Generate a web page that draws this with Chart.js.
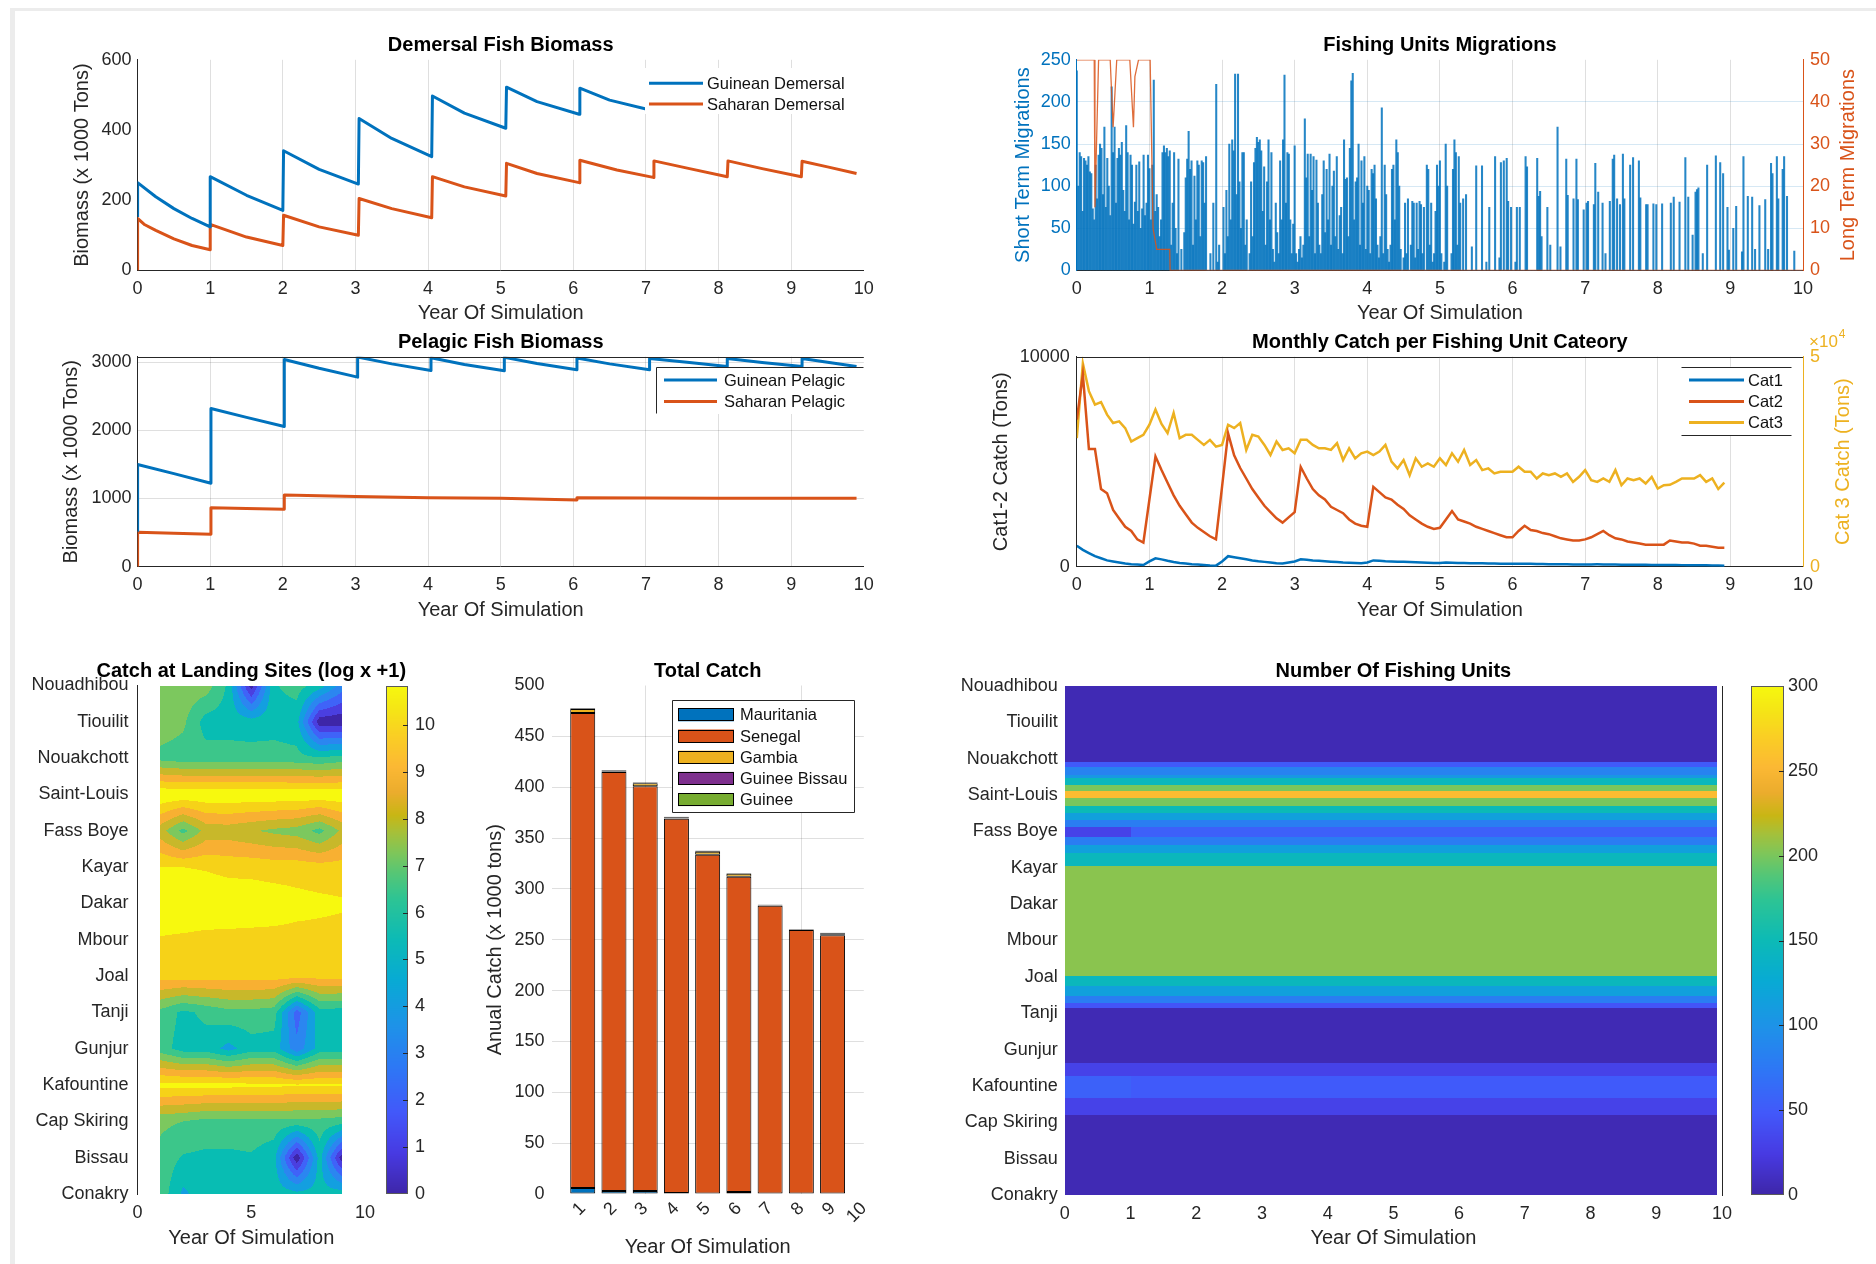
<!DOCTYPE html>
<html>
<head>
<meta charset="utf-8">
<title>Fisheries simulation dashboard</title>
<script src="https://cdn.jsdelivr.net/npm/chart.js@4.4.1/dist/chart.umd.min.js"></script>
<style>
html,body{margin:0;padding:0;background:#ffffff;}
body{position:relative;width:1876px;height:1264px;overflow:hidden;}
canvas{position:absolute;}
#frameL{position:absolute;left:10px;top:8px;width:5px;height:1256px;background:#ececec;}
#frameT{position:absolute;left:10px;top:8px;width:1866px;height:3px;background:#ececec;}
</style>
</head>
<body>
<div id="frameL"></div><div id="frameT"></div>
<canvas id="c1"></canvas>
<canvas id="c2"></canvas>
<canvas id="c3"></canvas>
<canvas id="c4"></canvas>
<canvas id="c5"></canvas>
<canvas id="c6"></canvas>
<canvas id="c7"></canvas>
<script>
// ======================= DATA =======================
const sites = ['Nouadhibou','Tiouilit','Nouakchott','Saint-Louis','Fass Boye','Kayar','Dakar','Mbour','Joal','Tanji','Gunjur','Kafountine','Cap Skiring','Bissau','Conakry'];

// Demersal fish biomass (x 1000 tons)
const guineanDemersalYear = [0,0,0.25,0.5,0.75,1.0,1.0,1.5,2.0,2.01,2.5,3.04,3.05,3.5,4.05,4.06,4.5,5.07,5.08,5.5,6.08,6.09,6.5,7.1,7.11,7.6,8.12,8.13,8.6,9.14,9.15,9.5,9.9];
const guineanDemersal     = [152,250,210,176,148,124,267,214,171,341,288,246,433,376,324,497,448,405,522,481,445,519,485,455,515,490,470,515,492,470,515,495,478];
const saharanDemersalYear = [0,0,0.1,0.25,0.5,0.75,1.0,1.0,1.5,2.0,2.01,2.5,3.04,3.05,3.5,4.05,4.06,4.5,5.07,5.08,5.5,6.08,6.09,6.6,7.1,7.11,7.6,8.12,8.13,8.6,9.14,9.15,9.5,9.9];
const saharanDemersal     = [0,148,130,114,90,71,59,131,95,71,157,124,100,205,176,150,267,238,212,305,276,250,314,286,265,312,290,267,312,290,267,311,295,276];

// Pelagic fish biomass (x 1000 tons)
const guineanPelagicYear = [0,0,0.5,1.01,1.01,1.5,2.02,2.02,2.5,3.03,3.03,3.5,4.04,4.04,4.5,5.05,5.05,5.5,6.05,6.05,6.5,7.05,7.05,7.6,8.12,8.12,8.6,9.15,9.15,9.5,9.9];
const guineanPelagic     = [514,1500,1365,1224,2320,2190,2056,3040,2910,2780,3075,2975,2878,3065,2965,2873,3070,2980,2888,3060,2975,2888,3055,2995,2937,3055,2995,2937,3055,3000,2937];
const saharanPelagicYear = [0,0,0.5,1.01,1.01,1.5,2.02,2.02,2.5,3.0,4.0,5.0,6.05,6.05,7.0,8.0,9.0,9.9];
const saharanPelagic     = [0,504,490,475,866,855,842,1052,1040,1028,1013,1003,979,1013,1008,1005,1003,1003];
const pelagicTicks = [0,1000,2000,3000];

// Fishing units migrations: short term (one value every 0.02 year), long term (read points)
const migrationStepYears = 0.02;
const shortTermMigrations = [
 237,100,140,135,70,133,130,125,135,117,115,73,60,125,85,137,150,145,90,170,75,133,100,65,218,140,170,80,133,145,137,152,95,70,172,140,60,137,125,55,81,125,70,129,50,73,137,65,80,137,
 121,60,125,226,70,90,75,40,60,140,148,140,145,135,142,30,80,140,50,20,132,0,25,0,45,110,132,165,120,130,30,112,60,130,125,40,130,128,80,135,0,0,20,0,80,0,221,10,30,0,
 0,75,20,95,40,150,60,155,142,233,90,233,105,50,140,140,30,60,0,20,105,40,128,145,158,152,155,142,70,123,30,105,155,60,140,25,10,80,45,20,130,60,155,232,80,140,138,60,20,55,
 148,20,10,25,40,15,30,180,110,138,40,138,95,135,20,131,80,30,20,90,130,45,120,60,138,30,100,118,40,135,25,65,75,20,155,108,110,40,145,225,234,60,105,110,150,30,130,80,135,25,
 100,95,20,120,115,125,85,30,15,40,193,20,125,90,25,10,30,120,125,60,155,140,100,25,0,15,80,20,85,0,30,82,80,15,80,25,82,78,20,75,0,125,120,30,80,10,20,70,125,100,
 130,20,0,10,150,100,0,0,20,120,155,140,30,135,80,0,85,0,90,0,0,0,28,0,0,124,0,0,0,124,0,0,10,0,75,0,0,0,135,0,0,15,128,0,130,0,133,82,0,75,
 0,0,10,75,0,75,0,0,0,135,123,0,0,0,0,0,0,133,88,94,40,0,0,0,75,0,30,0,0,0,0,170,0,28,0,0,0,132,89,0,0,0,85,0,132,84,0,0,0,72,
 0,80,82,0,0,0,78,127,0,93,0,0,80,0,20,0,0,82,0,132,137,0,85,0,78,0,138,85,0,0,0,125,0,134,0,0,0,130,86,0,0,0,78,78,0,0,0,79,0,78,
 0,0,0,79,0,0,0,0,0,80,0,87,0,0,0,81,0,0,0,134,0,87,0,0,42,0,93,96,98,0,0,20,0,0,125,0,0,0,0,0,136,0,0,128,0,115,0,0,75,24,
 0,0,50,0,76,0,0,0,22,135,0,0,88,0,0,87,0,25,0,0,77,0,0,0,84,0,25,0,127,115,0,0,135,85,0,0,120,135,0,88,0,0,0,0,23,0,0,0,0,0
];
const longTermYear = [0,0.24,0.25,0.3,0.46,0.5,0.55,0.73,0.78,0.8,0.85,1.01,1.05,1.1,1.28,1.285,10];
const longTermMigrations = [50,50,15,50,50,34,50,50,34,46,50,50,10,5,5,0,0];

// Monthly catch per fishing unit category (tons), one value per month from year 0
const monthsPerYear = 12;
const cat1Catch = [1000,800,650,500,400,300,250,200,150,120,100,80, 250,400,350,280,220,180,150,120,100,80,60,50, 250,500,450,400,350,300,260,230,200,170,150,200, 250,350,330,300,280,260,240,220,200,190,180,170, 200,300,280,260,250,240,230,220,210,200,190,180, 180,200,190,180,175,170,165,160,155,150,145,140, 140,145,140,135,130,125,120,118,115,112,110,108, 108,110,112,110,105,100,98,95,92,90,88,85, 85,82,80,78,75,72,70,68,65,60,55,50];
const cat2Catch = [7000,9150,5600,5600,3700,3500,2700,2300,1900,1700,1300,1150, 3200,5250,4600,4000,3400,2900,2500,2100,1850,1650,1450,1300, 3800,6350,5300,4700,4200,3700,3300,2900,2600,2300,2100,2350, 2600,4750,4200,3700,3400,3200,2850,2700,2550,2250,2050,1950, 1900,3800,3550,3300,3200,2950,2750,2450,2250,2050,1900,1800, 1850,2250,2650,2250,2150,2050,1900,1800,1700,1600,1500,1400, 1400,1700,1950,1750,1700,1600,1550,1450,1350,1300,1250,1250, 1300,1400,1550,1700,1500,1350,1300,1200,1150,1100,1050,1050, 1050,1050,1250,1200,1150,1150,1100,1000,1000,950,900,900];
const cat3Catch = [30600,48400,41800,38600,39200,36200,34200,34600,33000,29800,30600,31400, 33800,37400,34000,31800,36600,30600,31400,31400,30200,29000,30200,28600, 29000,33800,33000,34200,27800,31400,31000,29000,26600,29800,27800,28200, 27000,30200,30200,29000,28200,28200,27800,29400,25400,28200,25800,27000, 27400,26600,27400,29000,25000,23400,25400,21800,25800,23800,24600,23800, 25800,24200,27000,25000,27800,24200,25400,23000,23400,22200,22600,22600, 22600,23800,22600,22600,21000,22200,21800,22200,21400,22200,20200,21400, 23000,20600,20200,21000,20200,23000,19400,21000,20600,21000,19800,21400, 18600,19400,19500,20200,21000,21000,21000,21800,20200,21000,18500,20000];

// Catch at landing sites, log(x+1): rows = sites, columns = years 1..9
const contourYears = [1,2,3,4,5,6,7,8,9];
const landingCatchLog = [
 [6.9,6.9,6.8,5.2,0.4,5.3,5.8,5.0,3.2],
 [6.9,6.5,5.0,5.0,4.9,5.0,4.8,0.3,0.2],
 [6.0,5.8,5.8,5.8,5.8,5.8,5.7,5.5,5.8],
 [10.7,10.6,10.6,10.6,10.6,10.6,10.6,10.6,10.6],
 [7.6,6.0,7.5,7.6,7.3,7.0,6.8,6.0,7.4],
 [9.9,9.9,9.8,9.6,9.6,9.5,9.5,9.4,9.4],
 [10.8,10.8,10.7,10.6,10.5,10.4,10.2,10.1,10.0],
 [9.8,9.7,9.6,9.6,9.6,9.6,9.6,9.6,9.6],
 [9.4,9.4,9.4,9.4,9.4,9.4,9.4,9.3,9.3],
 [6.0,5.2,5.6,6.0,6.0,5.8,2.2,5.0,4.9],
 [5.8,5.0,5.0,4.2,5.0,5.0,3.0,4.9,4.9],
 [10.2,10.2,10.2,10.2,10.1,10.1,10.0,10.0,10.0],
 [6.5,6.3,6.0,6.0,6.0,6.0,6.0,6.0,5.8],
 [6.0,5.3,5.2,5.2,5.3,4.8,0.2,4.9,0.3],
 [6.0,4.3,5.0,5.0,5.0,5.0,4.8,4.8,5.0]
];
const contourLevels = [0.9,1.8,2.7,3.6,4.5,5.4,6.3,7.2,8.1,9.0,9.9];
const catchLogMax = 10.84;
const catchLogTicks = [0,1,2,3,4,5,6,7,8,9,10];

// Total annual catch (x 1000 tons)
const totalCatchYear = [1,2,3,4,5,6,7,8,9];
const catchMauritania   = [6,3,3,1,0.5,2,0.5,0.5,0.5];
const catchSenegal      = [467,412,398,368,333,310,283,259,254];
const catchGambia       = [4,0.5,3,0.5,3,3,0.5,0.5,0.5];
const catchGuineeBissau = [0.5,1,0.5,1,1,0.3,0.3,0.3,1.5];
const catchGuinee       = [0.3,0.5,0.3,0.5,0.3,0.3,0.3,0.3,0.5];

// Number of fishing units: bands along the coast (site axis) x time segments
const unitsEdges      = [1,3.08,3.22,3.45,3.54,3.72,3.9,4.08,4.3,4.5,4.68,4.87,5.14,5.37,5.6,5.96,8.98,9.26,9.54,9.72,9.86,11.37,11.73,12.33,12.79,15];
const unitsFirstYear  = [5,50,85,105,145,200,255,200,150,115,80,30,80,115,145,205,145,115,80,45,5,30,56,30,5];
const unitsLaterYears = [5,50,85,105,145,200,255,200,150,115,80,55,80,115,145,205,145,115,80,45,5,30,50,30,5];
const unitsTimeEdges  = [0,1,9.92];
const unitsMax = 300;
const unitsTicks = [0,50,100,150,200,250,300];

// ======================= STYLE / HELPERS =======================
const FONT = "'Liberation Sans', Arial, Helvetica, sans-serif";
const TXT = '#262626';
const GRID = 'rgba(38,38,38,0.15)';
const BLUE = '#0072BD', ORANGE = '#D95319', YELLOW = '#EDB120', PURPLE = '#7E2F8E', GREEN = '#77AC30';
const CLEAR = 'rgba(0,0,0,0)';

Chart.defaults.font.family = FONT;
Chart.defaults.color = TXT;
Chart.defaults.animation = false;
Chart.defaults.events = [];
Chart.defaults.plugins.legend.display = false;
Chart.defaults.plugins.tooltip.enabled = false;

const PARULA = [[0,62,38,168],[0.08,71,58,226],[0.16,66,88,250],[0.25,45,120,245],[0.33,30,146,232],[0.42,8,170,212],[0.5,12,186,182],[0.58,45,196,148],[0.63,85,198,118],[0.67,125,198,90],[0.71,165,192,58],[0.745,200,182,20],[0.79,235,172,45],[0.84,251,184,52],[0.9,250,206,36],[0.95,245,228,22],[1,246,248,14]];
function parula(t){
  t = Math.max(0, Math.min(1, t));
  for (let i = 1; i < PARULA.length; i++) {
    if (t <= PARULA[i][0]) {
      const a = PARULA[i-1], b = PARULA[i], f = (t - a[0]) / (b[0] - a[0]);
      return [a[1]+f*(b[1]-a[1]), a[2]+f*(b[2]-a[2]), a[3]+f*(b[3]-a[3])];
    }
  }
  return PARULA[PARULA.length-1].slice(1);
}
function rgb(c){ return 'rgb(' + Math.round(c[0]) + ',' + Math.round(c[1]) + ',' + Math.round(c[2]) + ')'; }
const CONTOUR_COLORS = [[62,38,168],[74,63,224],[63,99,248],[43,134,240],[19,159,224],[8,189,179],[60,198,138],[124,200,94],[200,184,42],[248,176,50],[246,210,24],[247,249,14]];

const BOX = {
  c1:{x:0,y:20,w:900,h:310},
  c2:{x:940,y:20,w:936,h:310},
  c3:{x:0,y:320,w:900,h:310},
  c4:{x:940,y:320,w:936,h:310},
  c5:{x:0,y:650,w:460,h:614},
  c6:{x:460,y:650,w:440,h:614},
  c7:{x:920,y:650,w:956,h:614}
};
function prep(id){
  const b = BOX[id], c = document.getElementById(id);
  c.width = b.w; c.height = b.h; c.style.left = b.x + 'px'; c.style.top = b.y + 'px';
  return c;
}
function pts(xs, ys){ return ys.map((v, i) => ({x: xs[i], y: v})); }
function gridAt(vals, color){ return ctx => (ctx.tick && vals.indexOf(ctx.tick.value) >= 0) ? color : CLEAR; }
function fixedTicks(vals){ return s => { s.ticks = vals.map(v => ({value: v})); }; }
const tickFont = {family: FONT, size: 18};
const titleFont = {family: FONT, size: 20};

function xYears(height, titleBottom, extra){
  return Object.assign({
    type:'linear', position:'bottom', min:0, max:10, offset:false,
    ticks:{stepSize:1, color:TXT, font:tickFont, padding:8, maxRotation:0, minRotation:0, autoSkip:false},
    grid:{display:true, drawTicks:false, offset:false, color:gridAt([1,2,3,4,5,6,7,8,9], GRID), lineWidth:1},
    border:{display:true, color:TXT, width:1},
    title:{display:true, text:'Year Of Simulation', color:TXT, font:titleFont, padding:{top:0, bottom:titleBottom}},
    afterFit: s => { s.height = height; }
  }, extra || {});
}
function yLeft(width, title, titleTop, extra){
  return Object.assign({
    type:'linear', position:'left',
    ticks:{color:TXT, font:tickFont, padding:6, autoSkip:false, callback: v => String(v)},
    grid:{display:false, drawTicks:false},
    border:{display:true, color:TXT, width:1},
    title:{display: !!title, text: title || '', color:TXT, font:titleFont, padding:{top:titleTop, bottom:0}},
    afterFit: s => { s.width = width; }
  }, extra || {});
}
// hidden right scale used only to place a colorbar
function colorbarScale(max, width, ticksFn, borderOn){
  return {type:'linear', position:'right', min:0, max:max,
    ticks:{display:false}, grid:{display:false, drawTicks:false},
    border:{display:borderOn, color:TXT, width:1},
    afterBuildTicks: ticksFn,
    afterFit: s => { s.width = width; }};
}

// Extra drawing registry (titles, legends, heat maps, colorbars) - filled before each chart is created
const DECOR = {};
Chart.register({
  id: 'decor',
  beforeDatasetsDraw(chart){
    const d = DECOR[chart.canvas.id];
    if (d && d.under) { chart.ctx.save(); d.under(chart, chart.ctx, BOX[chart.canvas.id]); chart.ctx.restore(); }
  },
  afterDraw(chart){
    const d = DECOR[chart.canvas.id]; if (!d) return;
    const ctx = chart.ctx, b = BOX[chart.canvas.id], a = chart.chartArea;
    ctx.save();
    if (d.over) d.over(chart, ctx, b);
    if (d.title) {
      ctx.font = 'bold 20px ' + FONT; ctx.fillStyle = '#000'; ctx.textAlign = 'center'; ctx.textBaseline = 'middle';
      ctx.fillText(d.title, (a.left + a.right) / 2, d.titleY - b.y);
    }
    ctx.restore();
  }
});

function legendItems(chart){ return chart.data.datasets.filter(ds => ds.label).map(ds => ({label: ds.label, color: ds.legendColor || ds.borderColor || ds.backgroundColor})); }
function drawLegend(ctx, b, L, items){
  const [x1, y1, x2, y2] = L.box;
  ctx.save();
  ctx.fillStyle = '#fff'; ctx.fillRect(x1 - b.x, y1 - b.y, x2 - x1, y2 - y1);
  const X1 = Math.round(x1 - b.x) + 0.5, Y1 = Math.round(y1 - b.y) + 0.5, X2 = Math.round(x2 - b.x) - 0.5, Y2 = Math.round(y2 - b.y) - 0.5;
  ctx.strokeStyle = TXT; ctx.lineWidth = 1; ctx.beginPath();
  (L.sides || []).forEach(s => {
    if (s === 'top') { ctx.moveTo(X1, Y1); ctx.lineTo(X2, Y1); }
    if (s === 'bottom') { ctx.moveTo(X1, Y2); ctx.lineTo(X2, Y2); }
    if (s === 'left') { ctx.moveTo(X1, Y1); ctx.lineTo(X1, Y2); }
    if (s === 'right') { ctx.moveTo(X2, Y1); ctx.lineTo(X2, Y2); }
  });
  ctx.stroke();
  ctx.font = '16.5px ' + FONT; ctx.textAlign = 'left'; ctx.textBaseline = 'middle';
  items.forEach((it, i) => {
    const y = L.ys[i] - b.y;
    if (L.swatch) {
      ctx.fillStyle = it.color; ctx.fillRect(L.mark[0] - b.x, y - L.swatch / 2, L.mark[1] - L.mark[0], L.swatch);
      ctx.strokeStyle = '#000'; ctx.lineWidth = 1;
      ctx.strokeRect(Math.round(L.mark[0] - b.x) + 0.5, Math.round(y - L.swatch / 2) + 0.5, L.mark[1] - L.mark[0] - 1, L.swatch - 1);
    } else {
      ctx.strokeStyle = it.color; ctx.lineWidth = L.lw || 3; ctx.beginPath();
      ctx.moveTo(L.mark[0] - b.x, y); ctx.lineTo(L.mark[1] - b.x, y); ctx.stroke();
    }
    ctx.fillStyle = '#111'; ctx.fillText(it.label, L.textX - b.x, y + 1);
  });
  ctx.restore();
}
function rightTitle(ctx, chart, b, text, px, color){
  const a = chart.chartArea;
  ctx.save(); ctx.translate(px - b.x, (a.top + a.bottom) / 2); ctx.rotate(-Math.PI / 2);
  ctx.font = '20px ' + FONT; ctx.fillStyle = color; ctx.textAlign = 'center'; ctx.textBaseline = 'middle';
  ctx.fillText(text, 0, 0); ctx.restore();
}
function topLine(ctx, chart){
  const a = chart.chartArea;
  ctx.save(); ctx.strokeStyle = TXT; ctx.lineWidth = 1; ctx.beginPath();
  ctx.moveTo(a.left, Math.round(a.top) + 0.5); ctx.lineTo(a.right, Math.round(a.top) + 0.5); ctx.stroke(); ctx.restore();
}
function colorbar(ctx, chart, scale, dx1, dx2, vmax, labelDx){
  const a = chart.chartArea, x1 = Math.round(a.right + dx1), x2 = Math.round(a.right + dx2);
  const top = Math.round(scale.getPixelForValue(vmax)), bot = Math.round(scale.getPixelForValue(0));
  for (let py = top; py < bot; py++) {
    const v = scale.getValueForPixel(py + 0.5);
    ctx.fillStyle = rgb(parula(v / vmax)); ctx.fillRect(x1, py, x2 - x1, 1);
  }
  ctx.strokeStyle = '#5a5a5a'; ctx.lineWidth = 1; ctx.strokeRect(x1 + 0.5, top + 0.5, x2 - x1 - 1, bot - top - 1);
  ctx.strokeStyle = TXT; ctx.beginPath();
  scale.ticks.forEach(t => {
    if (t.value <= 0 || t.value >= vmax) return;
    const py = Math.round(scale.getPixelForValue(t.value)) + 0.5;
    ctx.moveTo(x2 - 5, py); ctx.lineTo(x2, py);
  });
  ctx.stroke();
  ctx.font = '18px ' + FONT; ctx.fillStyle = TXT; ctx.textAlign = 'left'; ctx.textBaseline = 'middle';
  scale.ticks.forEach(t => ctx.fillText(String(t.value), a.right + labelDx, scale.getPixelForValue(t.value)));
}

// ======================= CHART 1: Demersal =======================
DECOR.c1 = { title:'Demersal Fish Biomass', titleY:45.5,
  over:(chart, ctx, b) => drawLegend(ctx, b, {box:[645,68,860,114], sides:[], ys:[83.3,104], mark:[649,703], textX:707, lw:3}, legendItems(chart)) };
new Chart(prep('c1'), {
  type: 'scatter',
  data: { datasets: [
    {label:'Guinean Demersal', data: pts(guineanDemersalYear, guineanDemersal), showLine:true, borderColor:BLUE, borderWidth:3, pointRadius:0, borderJoinStyle:'round'},
    {label:'Saharan Demersal', data: pts(saharanDemersalYear, saharanDemersal), showLine:true, borderColor:ORANGE, borderWidth:3, pointRadius:0, borderJoinStyle:'round'}
  ]},
  options: {
    responsive:false, devicePixelRatio:1,
    layout:{padding:{top:39.8, right:36.2, bottom:0, left:0}},
    scales:{
      x: xYears(59.6, 4.5),
      y: yLeft(137.6, 'Biomass (x 1000 Tons)', 70, {min:0, max:600, ticks:{stepSize:200, color:TXT, font:tickFont, padding:6, callback: v => String(v)}})
    }
  }
});

// ======================= CHART 2: Migrations =======================
DECOR.c2 = { title:'Fishing Units Migrations', titleY:45.5,
  over:(chart, ctx, b) => rightTitle(ctx, chart, b, 'Long Term Migrations', 1848.5, ORANGE) };
new Chart(prep('c2'), {
  type: 'bar',
  data: { datasets: [
    {type:'bar', label:'Short Term', data: shortTermMigrations.map((v, i) => ({x: i * migrationStepYears, y: v})), backgroundColor:'rgba(0,114,189,0.85)', barThickness:1.4, yAxisID:'y', order:2},
    {type:'line', label:'Long Term', data: pts(longTermYear, longTermMigrations), borderColor:'rgba(217,83,25,0.85)', borderWidth:1.3, pointRadius:0, yAxisID:'y2', order:1}
  ]},
  options: {
    responsive:false, devicePixelRatio:1,
    layout:{padding:{top:39.8, right:0, bottom:0, left:0}},
    scales:{
      x: xYears(59.6, 4.5),
      y: yLeft(136.8, 'Short Term Migrations', 71, {min:0, max:250,
          ticks:{stepSize:50, color:BLUE, font:tickFont, padding:6},
          grid:{display:true, drawTicks:false, color:gridAt([50,100,150,200], 'rgba(0,114,189,0.16)')},
          border:{display:true, color:BLUE, width:1},
          title:{display:true, text:'Short Term Migrations', color:BLUE, font:titleFont, padding:{top:71, bottom:0}}}),
      y2: {type:'linear', position:'right', min:0, max:50,
          ticks:{stepSize:10, color:ORANGE, font:tickFont, padding:7},
          grid:{display:false, drawTicks:false},
          border:{display:true, color:ORANGE, width:1},
          afterFit: s => { s.width = 73; }}
    }
  }
});

// ======================= CHART 3: Pelagic =======================
DECOR.c3 = { title:'Pelagic Fish Biomass', titleY:342,
  over:(chart, ctx, b) => { topLine(ctx, chart);
    drawLegend(ctx, b, {box:[656,367,864,414], sides:['top','left'], ys:[380,401.5], mark:[664,717], textX:724, lw:3}, legendItems(chart)); } };
new Chart(prep('c3'), {
  type: 'scatter',
  data: { datasets: [
    {label:'Guinean Pelagic', data: pts(guineanPelagicYear, guineanPelagic), showLine:true, borderColor:BLUE, borderWidth:3, pointRadius:0, borderJoinStyle:'round'},
    {label:'Saharan Pelagic', data: pts(saharanPelagicYear, saharanPelagic), showLine:true, borderColor:ORANGE, borderWidth:3, pointRadius:0, borderJoinStyle:'round'}
  ]},
  options: {
    responsive:false, devicePixelRatio:1,
    layout:{padding:{top:36.7, right:36.2, bottom:0, left:0}},
    scales:{
      x: xYears(63.3, 8),
      y: yLeft(137.6, 'Biomass (x 1000 Tons)', 59, {min:0, max:3080,
          ticks:{color:TXT, font:tickFont, padding:6, callback: v => String(v)},
          grid:{display:true, drawTicks:false, color:gridAt([1000,2000,3000], GRID)},
          afterBuildTicks: fixedTicks(pelagicTicks)})
    }
  }
});

// ======================= CHART 4: Monthly catch =======================
DECOR.c4 = { title:'Monthly Catch per Fishing Unit Cateory', titleY:342,
  over:(chart, ctx, b) => {
    topLine(ctx, chart);
    rightTitle(ctx, chart, b, 'Cat 3 Catch (Tons)', 1843, YELLOW);
    ctx.fillStyle = YELLOW; ctx.textAlign = 'left'; ctx.textBaseline = 'alphabetic';
    ctx.font = '17px ' + FONT; const w = ctx.measureText('\u00d710').width;
    ctx.fillText('\u00d710', 1809 - b.x, 347 - b.y);
    ctx.font = '12px ' + FONT; ctx.fillText('4', 1809 - b.x + w + 1, 338 - b.y);
    const items = legendItems(chart).reverse();
    drawLegend(ctx, b, {box:[1681,366.7,1792,435.7], sides:['top','bottom'], ys:[380,401.5,422.5], mark:[1689,1744], textX:1748, lw:3}, items);
  } };
const monthYear = cat1Catch.map((v, i) => i / monthsPerYear);
new Chart(prep('c4'), {
  type: 'scatter',
  data: { datasets: [
    {label:'Cat3', data: pts(monthYear, cat3Catch), showLine:true, borderColor:YELLOW, borderWidth:2.5, pointRadius:0, yAxisID:'y2', order:3},
    {label:'Cat2', data: pts(monthYear, cat2Catch), showLine:true, borderColor:ORANGE, borderWidth:2.5, pointRadius:0, yAxisID:'y', order:2},
    {label:'Cat1', data: pts(monthYear, cat1Catch), showLine:true, borderColor:BLUE, borderWidth:2.5, pointRadius:0, yAxisID:'y', order:1}
  ]},
  options: {
    responsive:false, devicePixelRatio:1,
    layout:{padding:{top:36.7, right:0, bottom:0, left:0}},
    scales:{
      x: xYears(63.3, 8),
      y: yLeft(136.8, 'Cat1-2 Catch (Tons)', 49, {min:0, max:10000, ticks:{stepSize:10000, color:TXT, font:tickFont, padding:7, callback: v => String(v)}}),
      y2: {type:'linear', position:'right', min:0, max:50000,
          ticks:{stepSize:50000, color:YELLOW, font:tickFont, padding:7, callback: v => String(v / 10000)},
          grid:{display:false, drawTicks:false},
          border:{display:true, color:YELLOW, width:1},
          afterFit: s => { s.width = 73; }}
    }
  }
});

// ======================= CHART 5: Catch at landing sites (filled contour) =======================
DECOR.c5 = { title:'Catch at Landing Sites (log x +1)', titleY:671,
  under:(chart, ctx) => {
    const xs = chart.scales.x, ys = chart.scales.y;
    const nC = contourYears.length, nR = sites.length, step = contourYears[1] - contourYears[0];
    const px0 = Math.round(xs.getPixelForValue(contourYears[0])), px1 = Math.round(xs.getPixelForValue(contourYears[nC - 1]));
    const py0 = Math.round(ys.getPixelForValue(1)), py1 = Math.round(ys.getPixelForValue(nR));
    const w = px1 - px0, h = py1 - py0, img = ctx.createImageData(w, h);
    for (let j = 0; j < h; j++) {
      const rv = ys.getValueForPixel(py0 + j + 0.5) - 1;
      const r0 = Math.max(0, Math.min(nR - 2, Math.floor(rv))), fr = Math.max(0, Math.min(1, rv - r0));
      for (let i = 0; i < w; i++) {
        const cv = (xs.getValueForPixel(px0 + i + 0.5) - contourYears[0]) / step;
        const c0 = Math.max(0, Math.min(nC - 2, Math.floor(cv))), fc = Math.max(0, Math.min(1, cv - c0));
        const g = landingCatchLog;
        const v = (1 - fr) * ((1 - fc) * g[r0][c0] + fc * g[r0][c0 + 1]) + fr * ((1 - fc) * g[r0 + 1][c0] + fc * g[r0 + 1][c0 + 1]);
        let k = 0; while (k < contourLevels.length && v >= contourLevels[k]) k++;
        const col = CONTOUR_COLORS[k], o = (j * w + i) * 4;
        img.data[o] = col[0]; img.data[o + 1] = col[1]; img.data[o + 2] = col[2]; img.data[o + 3] = 255;
      }
    }
    ctx.putImageData(img, px0, py0);
  },
  over:(chart, ctx) => colorbar(ctx, chart, chart.scales.y2, 21, 43, catchLogMax, 50) };
new Chart(prep('c5'), {
  type: 'scatter',
  data: { datasets: [] },
  options: {
    responsive:false, devicePixelRatio:1,
    layout:{padding:{top:35.5, right:0, bottom:0, left:0}},
    scales:{
      x: xYears(70, 14, {ticks:{stepSize:5, color:TXT, font:tickFont, padding:8, maxRotation:0, autoSkip:false}, grid:{display:false, drawTicks:false}, border:{display:false}}),
      y: yLeft(137.6, '', 0, {min:1, max:sites.length, reverse:true,
          ticks:{stepSize:1, color:TXT, font:tickFont, padding:9, autoSkip:false, callback: v => sites[v - 1]}}),
      y2: colorbarScale(catchLogMax, 95, fixedTicks(catchLogTicks), false)
    }
  }
});

// ======================= CHART 6: Total catch (stacked bars) =======================
DECOR.c6 = { title:'Total Catch', titleY:671,
  over:(chart, ctx, b) => drawLegend(ctx, b, {box:[671.7,700.3,855,813], sides:['top','bottom','left','right'], ys:[714.8,736,757.2,778.4,799.6], mark:[678,734], textX:740, swatch:13}, legendItems(chart)) };
const catchSeries = [
  ['Mauritania', catchMauritania, BLUE],
  ['Senegal', catchSenegal, ORANGE],
  ['Gambia', catchGambia, YELLOW],
  ['Guinee Bissau', catchGuineeBissau, PURPLE],
  ['Guinee', catchGuinee, GREEN]
];
new Chart(prep('c6'), {
  type: 'bar',
  data: { datasets: catchSeries.map(([label, vals, color]) => ({
    label, data: pts(totalCatchYear, vals), backgroundColor: color, legendColor: color,
    borderColor:'#000', borderWidth:1, borderSkipped:false, categoryPercentage:1, barPercentage:0.8
  })) },
  options: {
    responsive:false, devicePixelRatio:1,
    layout:{padding:{top:35.5, right:36.2, bottom:0, left:0}},
    scales:{
      x: xYears(70, 5, {stacked:true,
          ticks:{stepSize:1, color:TXT, font:tickFont, padding:4, minRotation:45, maxRotation:45, autoSkip:false, callback: v => v === 0 ? '' : String(v)},
          grid:{display:true, drawTicks:false, offset:false, color:gridAt([3,8], GRID)},
          border:{display:false}}),
      y: yLeft(91.5, 'Anual Catch (x 1000 tons)', 23, {stacked:true, min:0, max:500,
          ticks:{stepSize:50, color:TXT, font:tickFont, padding:7},
          grid:{display:true, drawTicks:false, color:gridAt([50,100,150,200,250,300,350,400,450], GRID)},
          border:{display:false}})
    }
  }
});

// ======================= CHART 7: Number of fishing units (heat map) =======================
DECOR.c7 = { title:'Number Of Fishing Units', titleY:671,
  under:(chart, ctx) => {
    const xs = chart.scales.x, ys = chart.scales.y;
    const segs = [[unitsTimeEdges[0], unitsTimeEdges[1], unitsFirstYear], [unitsTimeEdges[1], unitsTimeEdges[2], unitsLaterYears]];
    segs.forEach(([t0, t1, vals]) => {
      const x0 = Math.round(xs.getPixelForValue(t0)), x1 = Math.round(xs.getPixelForValue(t1));
      for (let k = 0; k < vals.length; k++) {
        const y0 = Math.round(ys.getPixelForValue(unitsEdges[k])), y1 = Math.round(ys.getPixelForValue(unitsEdges[k + 1]));
        ctx.fillStyle = rgb(parula(vals[k] / unitsMax));
        ctx.fillRect(x0, y0, x1 - x0, y1 - y0);
      }
    });
  },
  over:(chart, ctx) => colorbar(ctx, chart, chart.scales.y2, 29, 62, unitsMax, 66) };
new Chart(prep('c7'), {
  type: 'scatter',
  data: { datasets: [] },
  options: {
    responsive:false, devicePixelRatio:1,
    layout:{padding:{top:36, right:0, bottom:0, left:0}},
    scales:{
      x: xYears(69, 14, {grid:{display:false, drawTicks:false}, border:{display:false}}),
      y: yLeft(144.8, '', 0, {min:1, max:sites.length, reverse:true,
          ticks:{stepSize:1, color:TXT, font:tickFont, padding:7, autoSkip:false, callback: v => sites[v - 1]},
          border:{display:false}}),
      y2: colorbarScale(unitsMax, 154, fixedTicks(unitsTicks), true)
    }
  }
});
</script>
</body>
</html>
